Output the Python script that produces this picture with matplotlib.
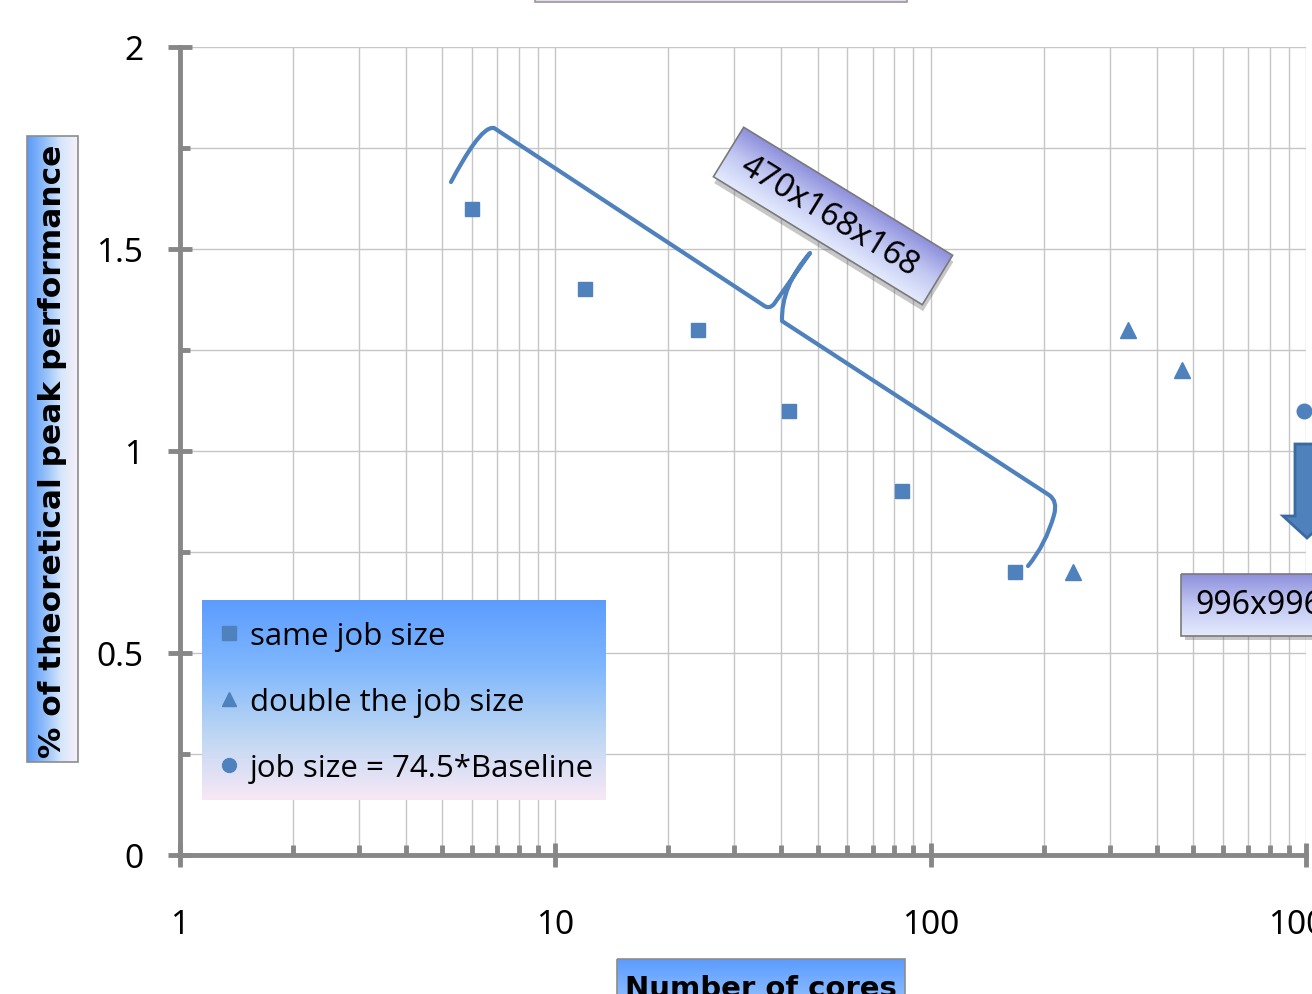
import numpy as np
import matplotlib.pyplot as plt
from matplotlib.colors import LinearSegmentedColormap
from matplotlib.patches import Rectangle, Polygon, PathPatch
from matplotlib.path import Path
import matplotlib.transforms as mtransforms
from matplotlib.ticker import FixedLocator, NullFormatter, MultipleLocator

W, H = 1312, 995

# data
same_cores = [6, 12, 24, 42, 84, 168]
same_perf = [1.6, 1.4, 1.3, 1.1, 0.9, 0.7]
double_cores = [240, 336, 466]
double_perf = [0.7, 1.3, 1.2]
big_cores = [990]
big_perf = [1.1]

series_labels = ['same job size', 'double the job size', 'job size = 74.5*Baseline']

x_ticks = [1, 10, 100, 1000]
x_tick_labels = ['1', '10', '100', '1000']
y_ticks = [0, 0.5, 1, 1.5, 2]
y_tick_labels = ['0', '0.5', '1', '1.5', '2']

BLUE = '#4f81bd'
AXIS = '#878787'
TICK_FONT = 'Noto Sans'
LEGEND_FONT = 'Open Sans'

fig = plt.figure(figsize=(W / 100, H / 100), dpi=100)
ax = fig.add_axes([180 / W, 1 - 856 / H, 1126 / W, 808 / H])

ax.plot(same_cores, same_perf, 's', ms=10.5, color=BLUE, label=series_labels[0])
ax.plot(double_cores, double_perf, '^', ms=11, color=BLUE, label=series_labels[1])
ax.plot(big_cores, big_perf, 'o', ms=10.5, color=BLUE, label=series_labels[2], clip_on=False)

ax.set_xscale('log')
ax.set_xlim(1, 1000)
ax.set_ylim(0, 2)
ax.xaxis.set_major_locator(FixedLocator(x_ticks))
ax.set_xticklabels(x_tick_labels)
ax.xaxis.set_minor_locator(FixedLocator([m * 10 ** d for d in range(3) for m in range(2, 10)]))
ax.xaxis.set_minor_formatter(NullFormatter())
ax.set_yticks(y_ticks)
ax.set_yticklabels(y_tick_labels)
ax.yaxis.set_minor_locator(MultipleLocator(0.25))

ax.grid(which='both', color='#c6c6c6', lw=1.0)
ax.set_axisbelow(True)
for s in ['top', 'right']:
    ax.spines[s].set_visible(False)
for s in ['left', 'bottom']:
    ax.spines[s].set_color(AXIS)
    ax.spines[s].set_linewidth(3.5)
ax.tick_params(which='major', direction='inout', length=17, width=3.5, color=AXIS,
               labelsize=24)
ax.tick_params(which='minor', direction='in', length=7, width=3.5, color=AXIS)
ax.tick_params(axis='x', which='major', pad=30)
ax.tick_params(axis='y', which='major', pad=18)
for lab in ax.get_xticklabels() + ax.get_yticklabels():
    lab.set_fontfamily(TICK_FONT)

# overlay in pixel coordinates for the decorations
ov = fig.add_axes([0, 0, 1, 1], zorder=5)
ov.set_axis_off()


def gradient_box(x0, y0, x1, y1, colors, vertical=True, edge='#8c8c8c', tr=None, z=1):
    cmap = LinearSegmentedColormap.from_list('g', colors)
    g = np.linspace(0, 1, 256)
    arr = g[:, None] if vertical else g[None, :]
    im = ov.imshow(arr, cmap=cmap, extent=(x0, x1, y1, y0), origin='upper',
                   aspect='auto', interpolation='bilinear', zorder=z)
    rect = Rectangle((x0, y0), x1 - x0, y1 - y0, fill=False, ec=edge, lw=1.2, zorder=z + 0.1)
    ov.add_patch(rect)
    if tr is not None:
        im.set_transform(tr + ov.transData)
        rect.set_transform(tr + ov.transData)


# top (clipped) title box
ov.add_patch(Rectangle((535, -40), 372, 43, fc='#e6d9ef', ec='#9a9a9a', lw=1.2))

# y label box
gradient_box(27, 137, 78, 763, ['#5a9af8', '#8fbdf9', '#d6e6fb', '#f7f0fa'], vertical=False)
ov.text(53, 451, '% of theoretical peak performance', rotation=90, ha='center', va='center',
        fontsize=22.5, fontweight='bold', family='DejaVu Sans', zorder=3)

# x label box
gradient_box(617, 960, 905, 1040, ['#5b9cff', '#8cbcff', '#c8e0ff'])
ov.text(761, 997, 'Number of cores', ha='center', va='baseline',
        fontsize=21, fontweight='bold', family='DejaVu Sans', zorder=3)

# legend
gradient_box(202, 601, 606, 801, ['#5b9cff', '#7fb7fd', '#bcd6f3', '#f8e8f6'], edge='none')
handles, labels = ax.get_legend_handles_labels()
leg = ov.legend(handles, labels, loc='upper left', bbox_to_anchor=(219.6, 622),
                bbox_transform=ov.transData, frameon=False, markerscale=0.95,
                handlelength=0.6, handletextpad=0.37, labelspacing=1.15, borderpad=0,
                borderaxespad=0, prop={'family': LEGEND_FONT, 'size': 22.5})
leg.set_zorder(4)

# brace over the "same job size" points
verts = [(451, 183), (466, 155), (483, 127), (494, 129),
         (763, 306), (769, 311), (774, 305),
         (810, 254), (781, 287), (782, 322),
         (1049, 496), (1058, 502), (1054, 516),
         (1046, 545), (1028, 567)]
codes = [Path.MOVETO, Path.CURVE4, Path.CURVE4, Path.CURVE4,
         Path.LINETO, Path.CURVE3, Path.CURVE3,
         Path.LINETO, Path.CURVE3, Path.CURVE3,
         Path.LINETO, Path.CURVE3, Path.CURVE3,
         Path.CURVE3, Path.CURVE3]
ov.add_patch(PathPatch(Path(verts, codes), fill=False, ec=BLUE, lw=3, capstyle='round',
                       joinstyle='round', zorder=3))

# rotated label box
cx, cy, bw, bh, ang = 833, 217, 245, 58, 31.5
rot = mtransforms.Affine2D().rotate_deg_around(cx, cy, ang)
shadow = Rectangle((cx - bw / 2 + 4, cy - bh / 2 + 5), bw, bh, fc='#606060', alpha=0.35, ec='none',
                   zorder=1.5)
shadow.set_transform(rot + ov.transData)
ov.add_patch(shadow)
gradient_box(cx - bw / 2, cy - bh / 2, cx + bw / 2, cy + bh / 2,
             ['#8e8fdc', '#c2c8f2', '#e4ebfd'], edge='#7a7a7a', tr=rot, z=2)
ov.text(cx - 4, cy, '470x168x168', rotation=-ang, rotation_mode='anchor', ha='center',
        va='center', fontsize=23.5, family=TICK_FONT, zorder=3)

# down arrow and box at the right edge
ov.add_patch(Polygon([(1295, 445), (1319, 445), (1319, 517), (1331, 517), (1307, 539),
                      (1283, 517), (1295, 517)], closed=True, fc=BLUE, ec='#3b6aa0', lw=2,
                     zorder=3))
ov.add_patch(Rectangle((1185, 579), 200, 62, fc='#606060', alpha=0.35, ec='none', zorder=1.5))
gradient_box(1181, 575, 1400, 637, ['#8e8fdc', '#c2c8f2', '#e4ebfd'], edge='#7a7a7a', z=2)
ov.text(1195, 606, '996x996x996', ha='left', va='center', fontsize=23, family=TICK_FONT, zorder=3)

ov.set_xlim(0, W)
ov.set_ylim(H, 0)

fig.savefig('out.png', dpi=100)
